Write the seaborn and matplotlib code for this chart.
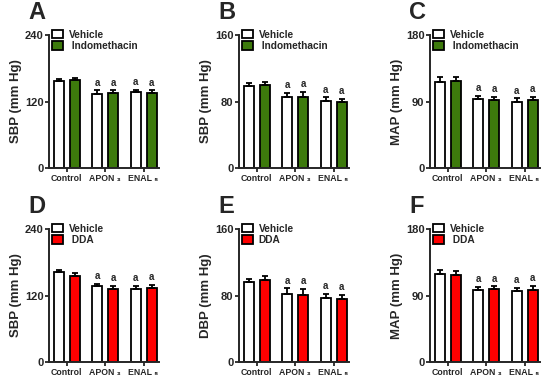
import seaborn as sns
import matplotlib.pyplot as plt
import pandas as pd

groups = ['Control', 'APON ₃', 'ENAL ₅']

# panel A-C: Vehicle vs Indomethacin
a_veh = [157, 133, 137]
a_veh_err = [4, 7, 4]
a_ind = [158, 136, 135]
a_ind_err = [4, 4, 5]

b_veh = [98.5, 85.5, 81]
b_veh_err = [3.5, 5, 4]
b_ind = [100, 86, 80]
b_ind_err = [3.5, 6, 3.5]

c_veh = [117, 93.5, 90]
c_veh_err = [6, 4.5, 4.5]
c_ind = [118, 92, 91.5]
c_ind_err = [5, 4.5, 5]

# panel D-F: Vehicle vs DDA
d_veh = [162, 137, 131]
d_veh_err = [4.5, 4, 6]
d_dda = [156, 132.5, 134]
d_dda_err = [4.5, 5, 5]

e_veh = [96, 82, 77.5]
e_veh_err = [3.5, 6.5, 4.5]
e_dda = [98.5, 81, 76]
e_dda_err = [5, 7, 4.5]

f_veh = [119, 97, 96]
f_veh_err = [5, 4.5, 4]
f_dda = [118, 98.5, 97.5]
f_dda_err = [5, 4, 6]

panels = [
    ('A', 'SBP (mm Hg)', 240, [0, 120, 240], ' Indomethacin', '#3d7a0c', a_veh, a_veh_err, a_ind, a_ind_err),
    ('B', 'SBP (mm Hg)', 160, [0, 80, 160], ' Indomethacin', '#3d7a0c', b_veh, b_veh_err, b_ind, b_ind_err),
    ('C', 'MAP (mm Hg)', 180, [0, 90, 180], ' Indomethacin', '#3d7a0c', c_veh, c_veh_err, c_ind, c_ind_err),
    ('D', 'SBP (mm Hg)', 240, [0, 120, 240], ' DDA', '#ff0000', d_veh, d_veh_err, d_dda, d_dda_err),
    ('E', 'DBP (mm Hg)', 160, [0, 80, 160], 'DDA', '#ff0000', e_veh, e_veh_err, e_dda, e_dda_err),
    ('F', 'MAP (mm Hg)', 180, [0, 90, 180], ' DDA', '#ff0000', f_veh, f_veh_err, f_dda, f_dda_err),
]

sns.set_style('ticks')
plt.rcParams['font.family'] = ['Liberation Sans', 'DejaVu Sans']
plt.rcParams['font.weight'] = 'bold'

fig = plt.figure(figsize=(5.5, 3.8), dpi=100)
lefts = [49 / 550, 239 / 550, 430 / 550]
bottoms = [212 / 380, 18 / 380]

for i, (letter, ylab, ymax, yt, trt, col, veh, veh_err, tr, tr_err) in enumerate(panels):
    ax = fig.add_axes([lefts[i % 3], bottoms[i // 3], 110 / 550, 133 / 380])
    df = pd.DataFrame({
        'group': groups * 2,
        'value': veh + tr,
        'err': veh_err + tr_err,
        'treat': ['Vehicle'] * 3 + [trt] * 3,
    })
    sns.barplot(data=df, x='group', y='value', hue='treat', ax=ax, errorbar=None,
                palette=['white', col], saturation=1, edgecolor='black', linewidth=1.3,
                width=0.84, gap=0.38, legend=True)
    errs = [veh_err, tr_err]
    vals = [veh, tr]
    bars = list(ax.containers)
    for k, cont in enumerate(bars):
        for j, bar in enumerate(cont):
            x = bar.get_x() + bar.get_width() / 2
            ax.errorbar(x, vals[k][j], yerr=[[0], [errs[k][j]]], fmt='none',
                        ecolor='black', elinewidth=1.3, capsize=2, capthick=1.3)
            if j > 0:
                ax.text(x, vals[k][j] + errs[k][j] + ymax * 0.02, 'a', ha='center',
                        va='bottom', fontsize=7, fontweight='bold')
    ax.set_xlim(-0.46, 2.4)
    ax.set_ylim(0, ymax)
    ax.set_yticks(yt)
    ax.set_xlabel('')
    ax.set_ylabel(ylab, fontsize=9.5, fontweight='bold', labelpad=2)
    ax.tick_params(axis='y', labelsize=8, width=1.3, length=3, pad=1)
    ax.tick_params(axis='x', labelsize=6.3, width=1.3, length=3, pad=1.5)
    for s in ['left', 'bottom']:
        ax.spines[s].set_linewidth(1.4)
    sns.despine(ax=ax)
    ax.legend(loc='upper left', bbox_to_anchor=(0.03, 1.04), frameon=False,
              handlelength=1.1, handleheight=0.9, handletextpad=0.5, labelspacing=0.15,
              borderpad=0, borderaxespad=0, prop={'weight': 'bold', 'size': 7.3})
    ax.text(-0.19, 1.08, letter, transform=ax.transAxes, fontsize=17, fontweight='bold',
            ha='left', va='bottom')

fig.savefig('out.png', dpi=100)
